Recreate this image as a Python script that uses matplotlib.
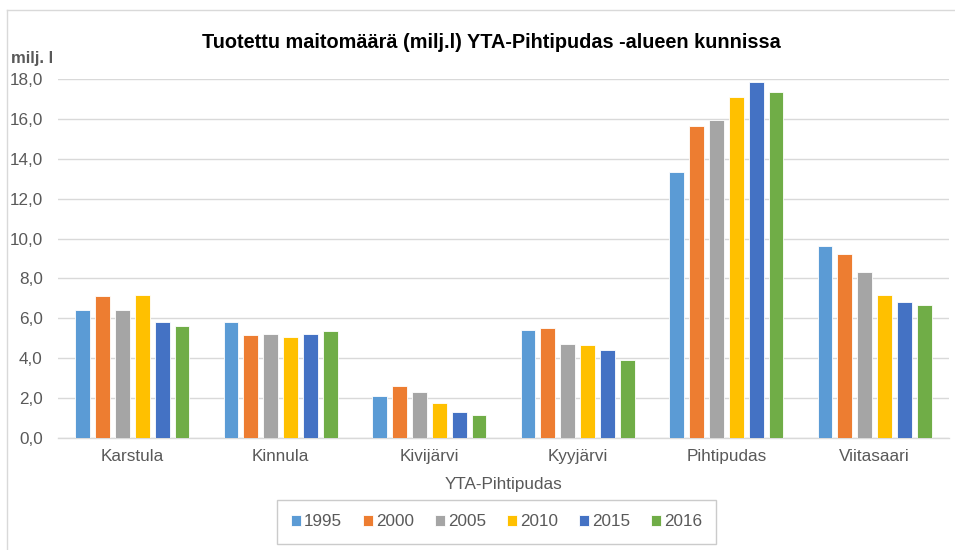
import numpy as np
import matplotlib.pyplot as plt
from matplotlib.lines import Line2D

plt.rcParams['font.family'] = ['Liberation Sans', 'DejaVu Sans']

kunnat = ['Karstula', 'Kinnula', 'Kivijärvi', 'Kyyjärvi', 'Pihtipudas', 'Viitasaari']
vuodet = ['1995', '2000', '2005', '2010', '2015', '2016']
v1995 = [6.4, 5.8, 2.1, 5.4, 13.35, 9.65]
v2000 = [7.1, 5.15, 2.6, 5.5, 15.65, 9.25]
v2005 = [6.4, 5.2, 2.3, 4.7, 15.95, 8.3]
v2010 = [7.15, 5.05, 1.75, 4.65, 17.1, 7.15]
v2015 = [5.8, 5.2, 1.3, 4.4, 17.85, 6.8]
v2016 = [5.6, 5.35, 1.15, 3.9, 17.35, 6.65]
sarjat = [v1995, v2000, v2005, v2010, v2015, v2016]
varit = ['#5B9BD5', '#ED7D31', '#A5A5A5', '#FFC000', '#4472C4', '#70AD47']
harmaa = '#595959'

fig = plt.figure(figsize=(9.55, 5.5), dpi=100)
ax = fig.add_axes([58/955, 112/550, 891/955, 359/550])

x = np.arange(len(kunnat))
vali = 0.134
for i, (arvot, vari) in enumerate(zip(sarjat, varit)):
    ax.bar(x + (i - 2.5) * vali, arvot, width=0.1, color=vari,
           edgecolor='white', linewidth=0.6, label=vuodet[i], zorder=3)

ax.set_xlim(-0.5, 5.5)
ax.set_ylim(0, 18)
ax.set_yticks(np.arange(0, 18.1, 2))
ax.set_yticklabels(['{:.1f}'.format(v).replace('.', ',') for v in np.arange(0, 18.1, 2)])
ax.set_xticks(x)
ax.set_xticklabels(kunnat)
ax.tick_params(axis='both', length=0, labelsize=12.3, colors=harmaa)
ax.tick_params(axis='y', pad=11)
ax.tick_params(axis='x', pad=8)
ax.yaxis.grid(True, color='#D9D9D9', linewidth=1, zorder=0)
for s in ['top', 'right', 'left']:
    ax.spines[s].set_visible(False)
ax.spines['bottom'].set_color('#D9D9D9')
ax.spines['bottom'].set_linewidth(1)

ax.set_xlabel('YTA-Pihtipudas', fontsize=12.3, color=harmaa, labelpad=9)

fig.text(491/955, 1 - 43/550, 'Tuotettu maitomäärä (milj.l) YTA-Pihtipudas -alueen kunnissa',
         ha='center', va='center', fontsize=14.3, fontweight='bold', color='black')
fig.text(11/955, 1 - 58/550, 'milj. l', ha='left', va='center', fontsize=12,
         fontweight='bold', color=harmaa)

# kehys
fig.add_artist(Line2D([7/955, 7/955], [0, 1 - 10/550], color='#D9D9D9', linewidth=1))
fig.add_artist(Line2D([7/955, 1], [1 - 10/550, 1 - 10/550], color='#D9D9D9', linewidth=1))

leg = fig.legend(loc='center', ncol=6, mode='expand',
                 bbox_to_anchor=(268/955, 6/550, 457/955, 44/550),
                 fontsize=12.3, frameon=True, fancybox=False, edgecolor='#BFBFBF',
                 handlelength=0.6, handleheight=0.6, handletextpad=0.15,
                 borderpad=0.85, labelcolor=harmaa)
leg.get_frame().set_linewidth(1)

fig.savefig('out.png', dpi=100)
